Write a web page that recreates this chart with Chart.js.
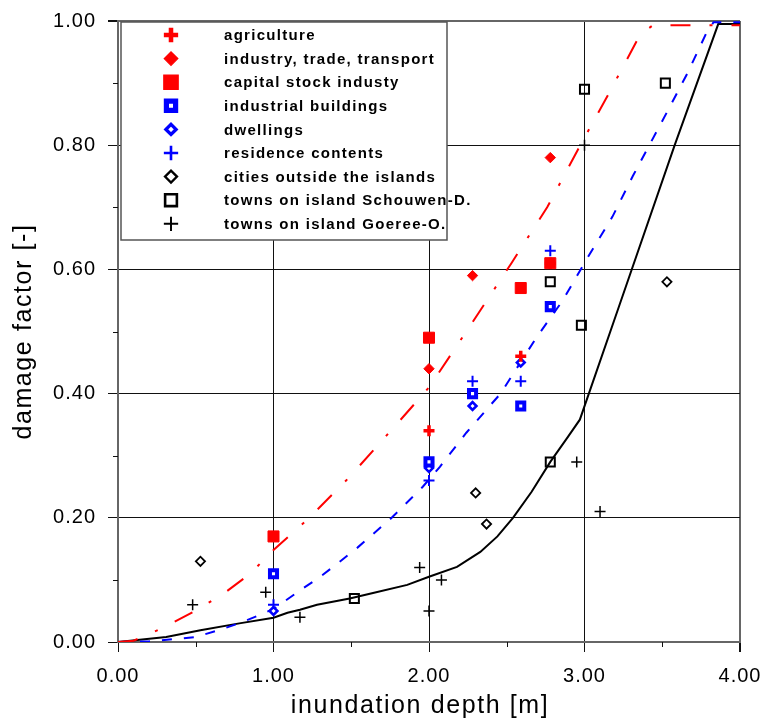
<!DOCTYPE html>
<html lang="en">
<head>
<meta charset="UTF-8">
<title>Damage factor vs inundation depth</title>
<script src="https://cdn.jsdelivr.net/npm/chart.js"></script>
<style>
  html, body { margin: 0; padding: 0; background: #fff; }
  #chart { display: block; }
</style>
</head>
<body>
<canvas id="chart" width="763" height="719"></canvas>
<script>
// axis ranges / titles
const xMin = 0, xMax = 4, xStep = 1, xMinorStep = 0.5;
const yMin = 0, yMax = 1, yStep = 0.2, yMinorStep = 0.1;
const xTitle = 'inundation depth [m]';
const yTitle = 'damage factor [-]';

// observed damage factors, [depth m, factor]
const agriculture   = [[2.00, 0.34], [2.59, 0.46], [2.78, 0.61]];
const industry      = [[2.00, 0.44], [2.28, 0.59], [2.78, 0.78]];
const capitalStock  = [[1.00, 0.17], [2.00, 0.49], [2.59, 0.57], [2.78, 0.61]];
const indBuildings  = [[1.00, 0.11], [2.00, 0.29], [2.28, 0.40], [2.59, 0.38], [2.78, 0.54]];
const dwellings     = [[1.00, 0.05], [2.00, 0.28], [2.28, 0.38], [2.59, 0.45]];
const resContents   = [[1.00, 0.06], [2.00, 0.26], [2.28, 0.42], [2.59, 0.42], [2.78, 0.63]];
const citiesOutside = [[0.53, 0.13], [2.30, 0.24], [2.37, 0.19], [3.53, 0.58]];
const townsSchouwen = [[1.52, 0.07], [2.78, 0.29], [2.98, 0.51], [2.78, 0.58], [3.00, 0.89], [3.52, 0.90]];
const townsGoeree   = [[0.48, 0.06], [0.95, 0.08], [1.17, 0.04], [1.94, 0.12], [2.00, 0.05],
                       [2.08, 0.10], [2.95, 0.29], [3.10, 0.21], [3.00, 0.80]];

// fitted damage curves
const curveRed = [[0, 0], [0.10, 0.002], [0.30, 0.024], [0.48, 0.048], [0.68, 0.078], [0.85, 0.11],
  [1.00, 0.148], [1.23, 0.20], [1.49, 0.266], [1.80, 0.353], [2.00, 0.41], [2.28, 0.515],
  [2.53, 0.61], [2.76, 0.70], [2.96, 0.794], [3.16, 0.885], [3.36, 0.979], [3.44, 0.993], [4.00, 0.993]];
const curveBlue = [[0, 0], [0.20, 0.001], [0.50, 0.008], [0.66, 0.02], [0.80, 0.032], [1.00, 0.053],
  [1.17, 0.083], [1.30, 0.105], [1.43, 0.13], [1.54, 0.152], [1.76, 0.20], [1.96, 0.25],
  [2.07, 0.282], [2.24, 0.337], [2.46, 0.40], [2.69, 0.49], [2.86, 0.55], [3.02, 0.619],
  [3.18, 0.685], [3.31, 0.75], [3.53, 0.853], [3.66, 0.915], [3.79, 0.984], [3.83, 0.998], [4.00, 0.998]];
const curveBlack = [[0, 0], [0.31, 0.008], [0.53, 0.019], [0.78, 0.03], [1.00, 0.039], [1.09, 0.047],
  [1.17, 0.052], [1.28, 0.06], [1.49, 0.07], [1.64, 0.079], [1.86, 0.092], [2.00, 0.105],
  [2.18, 0.121], [2.33, 0.145], [2.44, 0.17], [2.54, 0.20], [2.66, 0.242], [2.78, 0.29],
  [2.89, 0.329], [2.97, 0.358], [3.22, 0.539], [3.58, 0.80], [3.86, 0.995], [4.00, 0.995]];

const toXY = arr => arr.map(p => ({ x: p[0], y: p[1] }));

function pts(label, data, style, radius, bw, border, fill) {
  return {
    label: label, data: toXY(data), showLine: false, order: 0,
    pointStyle: style, pointRadius: radius, pointBorderWidth: bw,
    pointBorderColor: border, pointBackgroundColor: fill,
    borderColor: border, backgroundColor: fill
  };
}
function curve(data, color, dash) {
  return {
    label: '', data: toXY(data), showLine: true, order: 10, pointRadius: 0,
    borderColor: color, borderWidth: 2, borderDash: dash, fill: false,
    tension: 0, isCurve: true
  };
}

const RED = '#ff0000', BLUE = '#0000ff', BLACK = '#000000';

const datasets = [
  pts('agriculture', agriculture, 'cross', 5.5, 3.5, RED, RED),
  pts('industry, trade, transport', industry, 'rectRot', 5.2, 1, RED, RED),
  pts('capital stock industy', capitalStock, 'rect', 7.8, 1, RED, RED),
  pts('industrial buildings', indBuildings, 'rect', 5, 4, BLUE, '#ffffff'),
  pts('dwellings', dwellings, 'rectRot', 3.9, 2.6, BLUE, '#ffffff'),
  pts('residence contents', resContents, 'cross', 5.5, 2, BLUE, BLUE),
  pts('cities outside the islands', citiesOutside, 'rectRot', 4.6, 1.8, BLACK, 'rgba(0,0,0,0)'),
  pts('towns on island Schouwen-D.', townsSchouwen, 'rect', 6.4, 2, BLACK, 'rgba(0,0,0,0)'),
  pts('towns on island Goeree-O.', townsGoeree, 'cross', 5.5, 1.5, BLACK, BLACK),
  curve(curveRed, RED, [20, 19, 3, 19]),
  curve(curveBlue, BLUE, [10, 12]),
  curve(curveBlack, BLACK, [])
];

const FONT = '"Liberation Sans", Arial, sans-serif';

// minor ticks, axis titles and the boxed legend
const extras = {
  id: 'extras',
  beforeDraw(chart) {
    chart.ctx.letterSpacing = '1px';
  },
  afterDraw(chart) {
    const ctx = chart.ctx;
    const a = chart.chartArea;
    const xs = chart.scales.x, ys = chart.scales.y;
    ctx.save();
    ctx.strokeStyle = '#111';
    ctx.lineWidth = 1;
    ctx.beginPath();
    for (let v = xMin + xMinorStep; v < xMax; v += xStep) {
      const px = Math.round(xs.getPixelForValue(v)) + 0.5;
      ctx.moveTo(px, a.bottom); ctx.lineTo(px, a.bottom + 5);
    }
    for (let v = yMin + yMinorStep; v < yMax; v += yStep) {
      const py = Math.round(ys.getPixelForValue(v)) + 0.5;
      ctx.moveTo(a.left - 5, py); ctx.lineTo(a.left, py);
    }
    ctx.stroke();

    // axis titles
    ctx.fillStyle = '#000';
    ctx.font = '25px ' + FONT;
    ctx.letterSpacing = '1.6px';
    ctx.textAlign = 'center';
    ctx.textBaseline = 'alphabetic';
    ctx.fillText(xTitle, (a.left + a.right) / 2 - 9, 713);
    ctx.save();
    ctx.translate(31, (a.top + a.bottom) / 2);
    ctx.rotate(-Math.PI / 2);
    ctx.fillText(yTitle, 0, 0);
    ctx.restore();

    // legend box
    const L = a.left + 3, T = a.top + 1, R = 447, B = 240;
    ctx.fillStyle = '#fff';
    ctx.fillRect(L, T, R - L, B - T);
    ctx.strokeStyle = '#555';
    ctx.lineWidth = 1.5;
    ctx.strokeRect(L, T, R - L, B - T);

    ctx.font = 'bold 15px ' + FONT;
    ctx.letterSpacing = '1.3px';
    ctx.textAlign = 'left';
    ctx.textBaseline = 'middle';
    let row = 0;
    chart.data.datasets.forEach(ds => {
      if (ds.isCurve) return;
      const y = T + 13 + row * 23.6;
      const mx = L + 50;
      ctx.fillStyle = ds.pointBackgroundColor;
      ctx.strokeStyle = ds.pointBorderColor;
      ctx.lineWidth = ds.pointBorderWidth * 1.3;
      Chart.helpers.drawPoint(ctx, {
        pointStyle: ds.pointStyle, rotation: 0,
        radius: ds.pointRadius * 1.3, borderWidth: ds.pointBorderWidth * 1.3
      }, mx, y);
      ctx.fillStyle = '#000';
      ctx.fillText(ds.label, L + 103, y + 1);
      row++;
    });
    ctx.restore();
  }
};

new Chart(document.getElementById('chart'), {
  type: 'scatter',
  data: { datasets: datasets },
  options: {
    responsive: false,
    animation: false,
    events: [],
    layout: { padding: { top: 21, right: 23, left: 0, bottom: 0 } },
    plugins: { legend: { display: false }, tooltip: { enabled: false } },
    scales: {
      x: {
        type: 'linear', min: xMin, max: xMax,
        afterFit: s => { s.height = 77; s.paddingLeft = 0; s.paddingRight = 0; },
        ticks: {
          stepSize: xStep, padding: 12, color: '#000',
          font: { family: FONT, size: 20 },
          callback: v => v.toFixed(2)
        },
        grid: {
          color: c => c.tick && c.tick.value === xMax ? '#666' : '#111',
          lineWidth: c => c.tick && c.tick.value === xMax ? 2 : 1,
          tickColor: '#111', tickLength: 10
        },
        border: { display: true, color: '#666', width: 2 }
      },
      y: {
        type: 'linear', min: yMin, max: yMax,
        afterFit: s => { s.width = 118; s.paddingTop = 0; s.paddingBottom = 0; },
        ticks: {
          stepSize: yStep, padding: 12, color: '#000',
          font: { family: FONT, size: 20 },
          callback: v => v.toFixed(2)
        },
        grid: {
          color: c => c.tick && Math.abs(c.tick.value - yMax) < 1e-6 ? '#666' : '#111',
          lineWidth: c => c.tick && Math.abs(c.tick.value - yMax) < 1e-6 ? 2 : 1,
          tickColor: '#111', tickLength: 10
        },
        border: { display: true, color: '#666', width: 2 }
      }
    }
  },
  plugins: [extras]
});
</script>
</body>
</html>
